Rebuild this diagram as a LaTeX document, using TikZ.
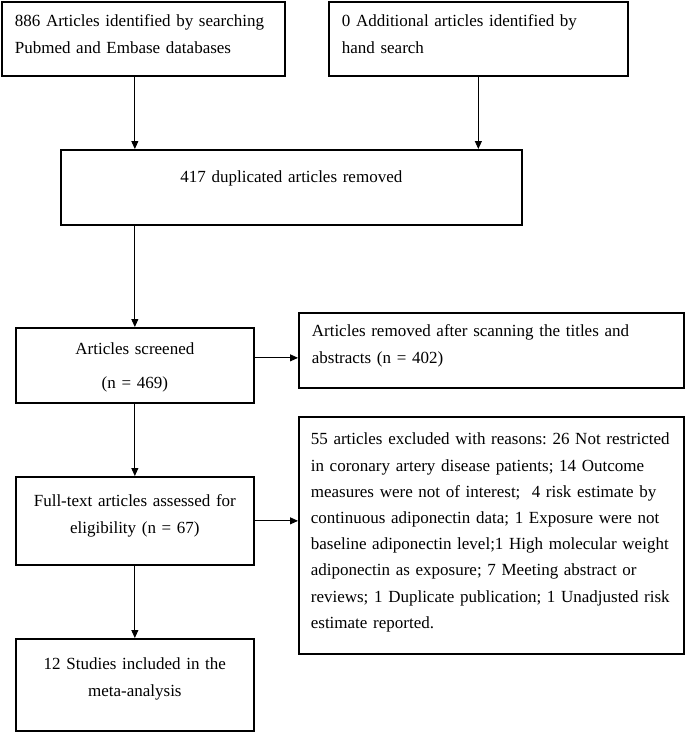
\documentclass[tikz,border=0pt]{standalone}
\usepackage{fontspec}
\setmainfont{Liberation Serif}
\usetikzlibrary{arrows.meta}
\frenchspacing
\hyphenpenalty=10000
\begin{document}
\begin{tikzpicture}[
    x=1pt, y=-1pt,
    box/.style={draw, line width=1.7pt, inner xsep=13pt, inner ysep=0pt,
      anchor=north west, font=\fontsize{17}{26.2}\selectfont},
    lbox/.style={box, align=left},
    cbox/.style={box, align=center},
    arr/.style={-{Triangle[length=8pt,width=7pt]}, line width=0.9pt}
  ]
  \useasboundingbox (0,0) rectangle (685,732);
  % identification
  \node[lbox, text width=257pt, text height=25pt, text depth=49pt] (search) at (1,1)
    {886 Articles identified by searching\\Pubmed and Embase databases};
  \node[lbox, text width=273pt, text height=25pt, text depth=49pt] (hand) at (328,1)
    {0 Additional articles identified by\\hand search};
  \node[cbox, text width=435pt, text height=33pt, text depth=42pt] (dupl) at (60,149)
    {417 duplicated articles removed};
  % screening
  \node[cbox, text width=212pt, text height=27pt, text depth=48pt] (screen) at (15,327)
    {Articles screened\\[7.8pt](n = 469)};
  \node[lbox, text width=359pt, text height=24pt, text depth=51pt] (removed) at (298,312)
    {Articles removed after scanning the titles and\\abstracts (n = 402)};
  % eligibility
  \node[cbox, text width=212pt, text height=30pt, text depth=58pt] (fulltext) at (15,476)
    {Full-text articles assessed for\\eligibility (n = 67)};
  \node[lbox, inner xsep=12pt, text width=361pt, text height=28pt, text depth=209pt] (excl) at (298,416)
    {55 articles excluded with reasons: 26 Not restricted\\
     in coronary artery disease patients; 14 Outcome\\
     measures were not of interest;~ 4 risk estimate by\\
     continuous adiponectin data; 1 Exposure were not\\
     baseline adiponectin level;1 High molecular weight\\
     adiponectin as exposure; 7 Meeting abstract or\\
     reviews; 1 Duplicate publication; 1 Unadjusted risk\\
     estimate reported.};
  % included
  \node[cbox, text width=212pt, text height=31pt, text depth=61pt] (incl) at (15,638)
    {12 Studies included in the\\meta-analysis};
  % arrows
  \draw[arr] (search.south -| screen.north) -- (dupl.north -| screen.north);
  \draw[arr] (hand) -- (hand |- dupl.north);
  \draw[arr] (dupl.south -| screen.north) -- (screen.north);
  \draw[arr] ([yshift=7.5pt]screen.east) -- ([yshift=7.5pt]screen.east -| removed.west);
  \draw[arr] (screen) -- (fulltext);
  \draw[arr] (fulltext.east) -- (fulltext.east -| excl.west);
  \draw[arr] (fulltext) -- (incl);
\end{tikzpicture}
\end{document}
